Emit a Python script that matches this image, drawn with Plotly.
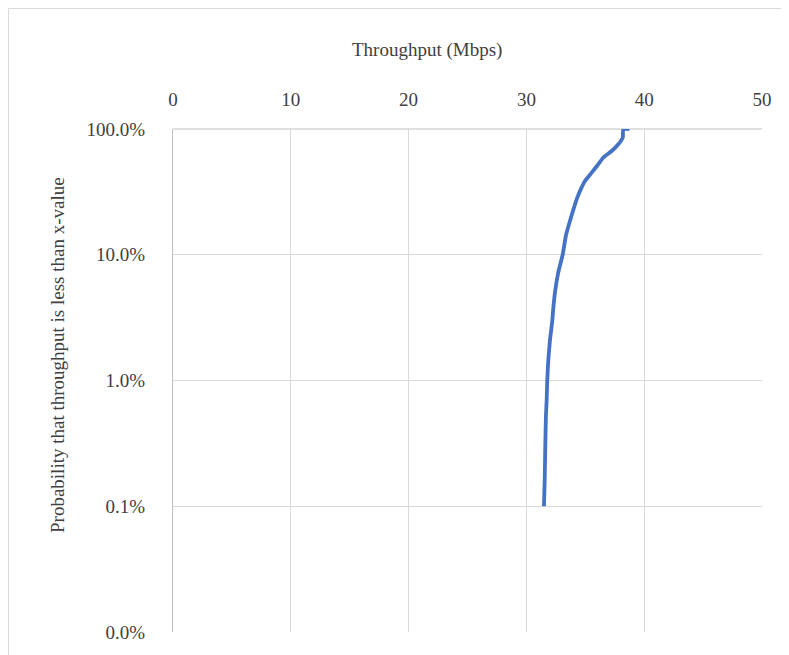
import plotly.graph_objects as go

# Data (CDF of throughput)
throughput_mbps = [31.49, 31.55, 31.60, 31.66, 31.72, 31.77, 31.86, 32.00, 32.20, 32.28,
                   32.43, 32.71, 33.08, 33.36, 33.84, 34.13, 34.32, 34.61, 34.97, 35.54,
                   36.10, 36.53, 37.24, 37.80, 38.18, 38.23, 38.75]
probability = [0.0010, 0.00156, 0.00289, 0.00529, 0.00697, 0.0100, 0.0145, 0.0209, 0.0301, 0.0373,
               0.0506, 0.0729, 0.100, 0.143, 0.206, 0.252, 0.285, 0.331, 0.386, 0.450,
               0.524, 0.593, 0.668, 0.756, 0.855, 1.000, 1.000]

x_ticks = [0, 10, 20, 30, 40, 50]
y_ticks = [0.0001, 0.001, 0.01, 0.1, 1.0]
y_tick_labels = ["0.0%", "0.1%", "1.0%", "10.0%", "100.0%"]

W, H = 789, 655
L, R, T, B = 165, 35, 121, 31
pw, ph = W - L - R, H - T - B

def px_x(p):
    return (p - L) / pw

def px_y(p):
    return (H - B - p) / ph

font = dict(family="Liberation Serif, Times New Roman, serif", size=19, color="#404040")

fig = go.Figure()
fig.add_trace(go.Scatter(
    x=throughput_mbps, y=probability, mode="lines",
    line=dict(color="#4472C4", width=3.8, shape="spline", smoothing=0.5), showlegend=False,
))

fig.update_layout(
    width=W, height=H,
    margin=dict(l=L, r=R, t=T, b=B),
    paper_bgcolor="white", plot_bgcolor="white",
    font=font,
    xaxis=dict(
        side="top", range=[0, 50], tickvals=x_ticks,
        showgrid=True, gridcolor="#D9D9D9", gridwidth=1,
        showline=False, zeroline=False,
        ticks="outside", ticklen=14, tickcolor="rgba(0,0,0,0)",
        tickfont=font,
    ),
    yaxis=dict(
        type="log", range=[-4, 0], tickvals=y_ticks, ticktext=y_tick_labels,
        showgrid=True, gridcolor="#D9D9D9", gridwidth=1,
        showline=True, linecolor="#BFBFBF", linewidth=1, zeroline=False,
        ticks="outside", ticklen=23, tickcolor="rgba(0,0,0,0)",
        tickfont=font,
    ),
    annotations=[
        dict(text="Throughput (Mbps)", xref="paper", yref="paper",
             x=px_x(419), y=px_y(42), showarrow=False, font=font,
             xanchor="center", yanchor="middle"),
        dict(text="Probability that throughput is less than x-value", xref="paper", yref="paper",
             x=px_x(49), y=px_y(347), showarrow=False, font=font, textangle=-90,
             xanchor="center", yanchor="middle"),
    ],
    shapes=[
        dict(type="line", xref="paper", yref="paper", x0=px_x(0.5), x1=px_x(0.5),
             y0=px_y(H + 5), y1=px_y(0.5), line=dict(color="#D9D9D9", width=1)),
        dict(type="line", xref="paper", yref="paper", x0=px_x(0.5), x1=px_x(W + 5),
             y0=px_y(0.5), y1=px_y(0.5), line=dict(color="#D9D9D9", width=1)),
        dict(type="line", xref="paper", yref="paper", x0=0, x1=1,
             y0=1, y1=1, line=dict(color="#BFBFBF", width=1), layer="below"),
    ],
)

fig.write_html("out.html")
